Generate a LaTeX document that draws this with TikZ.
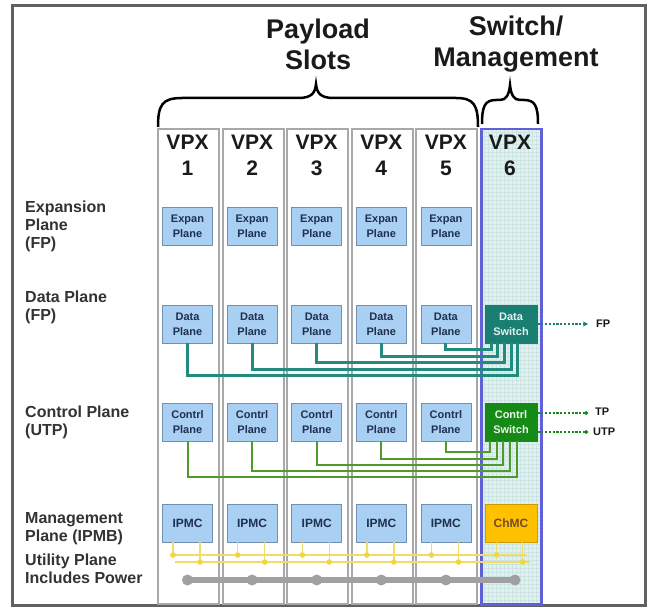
\documentclass[tikz,border=0pt]{standalone}
\usepackage{fontspec}
\setmainfont{Liberation Sans}
\usetikzlibrary{arrows.meta,calc}
\definecolor{framec}{HTML}{606060}
\definecolor{slotgray}{HTML}{A8A8A8}
\definecolor{pfill}{HTML}{A9CFF3}
\definecolor{pborder}{HTML}{7090B0}
\definecolor{pnavy}{HTML}{1F3050}
\definecolor{dswc}{HTML}{1A7F72}
\definecolor{cswc}{HTML}{168A16}
\definecolor{chmcc}{HTML}{FFC000}
\definecolor{s6fill}{HTML}{E2F1EF}
\definecolor{s6grid}{HTML}{CDE5E2}
\definecolor{s6border}{HTML}{6060D8}
\definecolor{tealline}{HTML}{238B7E}
\definecolor{ctrlline}{HTML}{4F9A2A}
\definecolor{ylw}{HTML}{F2D640}
\definecolor{ylwline}{HTML}{F1DC6A}
\definecolor{busgray}{HTML}{A0A0A0}
\definecolor{txt}{HTML}{1A1A1A}
\definecolor{sidetxt}{HTML}{333333}
\begin{document}
\begin{tikzpicture}[x=1pt,y=-1pt,
  slotbox/.style={draw=slotgray, line width=2pt, fill=white, minimum width=61pt, minimum height=475pt, anchor=north west, inner sep=0pt},
  pbox/.style={draw=pborder, line width=0.8pt, fill=pfill, minimum width=50pt, minimum height=38pt, inner sep=0pt, align=center, font=\bfseries\fontsize{11}{15}\selectfont, text=pnavy},
  dsw/.style={pbox, draw=dswc, fill=dswc, text=white!88!dswc, minimum width=52pt},
  csw/.style={pbox, draw=cswc, fill=cswc, text=white!92!cswc, minimum width=52pt},
  chm/.style={pbox, draw=chmcc!80!black, fill=chmcc, text=brown!60!black, minimum width=52pt},
  vpxlab/.style={align=center, font=\bfseries\fontsize{21}{26}\selectfont, text=txt, inner sep=0pt},
  titlelab/.style={align=center, font=\bfseries\fontsize{27}{31}\selectfont, text=txt, inner sep=0pt},
  sidelab/.style={align=left, anchor=north west, font=\bfseries\fontsize{16}{18}\selectfont, text=sidetxt, inner sep=0pt},
  extlab/.style={anchor=west, font=\bfseries\fontsize{11}{12}\selectfont, text=txt, inner sep=0pt},
  dline/.style={draw=tealline, line width=3pt},
  cline/.style={draw=ctrlline, line width=2pt},
  yline/.style={draw=ylwline, line width=1.4pt},
  ydot/.style={fill=ylw, draw=none},
  ubus/.style={draw=busgray, line width=6pt},
  bracec/.style={draw=black, line width=2.5pt},
  darrow/.style={line width=1.3pt, dash pattern=on 2.2pt off 1.6pt}
]
\useasboundingbox (0,0) rectangle (652,609);
\fill[white] (0,0) rectangle (652,609);
\draw[framec, line width=3pt] (12.5,5.5) rectangle (645.5,605.5);

% titles
\node[titlelab] (tpay) at (318,44) {Payload\\Slots};
\node[titlelab] (tsw) at (516,44) {Switch/\\Management};

% braces
\draw[bracec] (158,127) .. controls (158,105) and (162,98) .. (182,98) -- (298,98)
  .. controls (312,98) and (315,93) .. (316,84) .. controls (317,93) and (320,98) .. (334,98)
  -- (456,98) .. controls (474,98) and (478,105) .. (478,127);
\draw[bracec] (482,124) .. controls (482,106) and (485,100) .. (496,100) -- (500,100)
  .. controls (506,100) and (509,95) .. (510,85) .. controls (511,95) and (514,100) .. (520,100)
  -- (524,100) .. controls (535,100) and (538,106) .. (538,124);

% slots
\foreach \i/\x in {1/157,2/221.6,3/286.2,4/350.8,5/415.4}{
  \node[slotbox] (s\i) at (\x,128) {};
}
\fill[s6fill] (480,128) rectangle (540,603);
\begin{scope}
\clip (480,128) rectangle (540,603);
\draw[s6grid, line width=0.4pt, step=4pt] (480,128) grid (540,603);
\end{scope}
\node[slotbox, fill=none, draw=s6border, line width=2.5pt, minimum width=60pt] (s6) at (480,128) {};

% VPX labels and boards
\foreach \i/\cx in {1/187.5,2/252.1,3/316.7,4/381.3,5/445.9}{
  \node[vpxlab] (v\i) at (\cx,155) {VPX\\\i};
  \node[pbox] (e\i) at (\cx,226) {Expan\\Plane};
  \node[pbox] (d\i) at (\cx,324) {Data\\Plane};
  \node[pbox] (c\i) at (\cx,422) {Contrl\\Plane};
  \node[pbox, font=\bfseries\fontsize{12}{14}\selectfont] (m\i) at (\cx,523) {IPMC};
}
\node[vpxlab] (v6) at (510,155) {VPX\\6};
\node[dsw] (ds) at (511,324) {Data\\Switch};
\node[csw] (cs) at (511,422) {Contrl\\Switch};
\node[chm, font=\bfseries\fontsize{12}{14}\selectfont] (ch) at (511,523) {ChMC};

% side labels
\node[sidelab] (lexp) at (25,201) {Expansion\\Plane\\(FP)};
\node[sidelab] (ldat) at (25,291) {Data Plane\\(FP)};
\node[sidelab] (lctl) at (25,406) {Control Plane\\(UTP)};
\node[sidelab] (lman) at (25,512) {Management\\Plane (IPMB)};
\node[sidelab] (luti) at (25,554) {Utility Plane\\Includes Power};

% data plane connectors
\draw[dline] (d1.south) -- ++(0,32) -| ([xshift=33pt]ds.south west);
\draw[dline] (d2.south) -- ++(0,26) -| ([xshift=27pt]ds.south west);
\draw[dline] (d3.south) -- ++(0,19) -| ([xshift=20pt]ds.south west);
\draw[dline] (d4.south) -- ++(0,13) -| ([xshift=13pt]ds.south west);
\draw[dline] (d5.south) -- ++(0,6) -| ([xshift=7pt]ds.south west);

% control plane connectors
\draw[cline] (c1.south) -- ++(0,36) -| ([xshift=32pt]cs.south west);
\draw[cline] (c2.south) -- ++(0,30) -| ([xshift=25pt]cs.south west);
\draw[cline] (c3.south) -- ++(0,24) -| ([xshift=18pt]cs.south west);
\draw[cline] (c4.south) -- ++(0,18) -| ([xshift=12pt]cs.south west);
\draw[cline] (c5.south) -- ++(0,11) -| ([xshift=5pt]cs.south west);

% external links
\coordinate (fpend) at (588,324);
\coordinate (tpend) at (588,413);
\coordinate (utpend) at (588,432);
\draw[darrow, draw=dswc, -{Stealth[length=5pt,width=5pt]}] (ds.east) -- (fpend);
\draw[darrow, draw=cswc, -{Circle[length=3.5pt]}] (cs.east |- tpend) -- (tpend);
\draw[darrow, draw=cswc, -{Circle[length=3.5pt]}] (cs.east |- utpend) -- (utpend);
\node[extlab] (lfp) at (596,324) {FP};
\node[extlab] (ltp) at (595,412) {TP};
\node[extlab] (lutp) at (593,432) {UTP};

% IPMB (yellow)
\coordinate (ya) at (170,555);
\coordinate (yb) at (527,555);
\coordinate (yc) at (175,562);
\coordinate (yd) at (530,562);
\draw[yline] (ya) -- (yb);
\draw[yline] (yc) -- (yd);
\foreach \n in {m1,m2,m3,m4,m5}{
  \draw[yline] ([xshift=11pt]\n.south west) -- ([xshift=11pt]\n.south west |- ya);
  \draw[yline] ([xshift=38pt]\n.south west) -- ([xshift=38pt]\n.south west |- yc);
  \fill[ydot] ([xshift=11pt]\n.south west |- ya) circle (2.8pt);
  \fill[ydot] ([xshift=38pt]\n.south west |- yc) circle (2.8pt);
}
\draw[yline] ([xshift=12pt]ch.south west) -- ([xshift=12pt]ch.south west |- ya);
\draw[yline] ([xshift=38pt]ch.south west) -- ([xshift=38pt]ch.south west |- yc);
\fill[ydot] ([xshift=12pt]ch.south west |- ya) circle (2.8pt);
\fill[ydot] ([xshift=38pt]ch.south west |- yc) circle (2.8pt);

% utility bus
\coordinate (ub0) at (188,580);
\coordinate (ub6) at (515,580);
\draw[ubus, line cap=round] (ub0) -- (ub6);
\foreach \n in {m1,m2,m3,m4,m5}{
  \fill[busgray] (\n.south |- ub0) circle (5.5pt);
}
\fill[busgray] (ub6) circle (5.5pt);
\end{tikzpicture}
\end{document}
